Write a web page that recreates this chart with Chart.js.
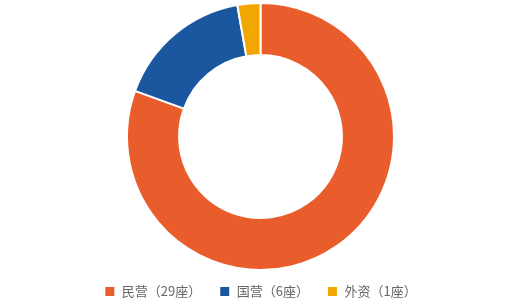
<!DOCTYPE html>
<html>
<head>
<meta charset="utf-8">
<script src="https://cdn.jsdelivr.net/npm/chart.js@4"></script>
<style>
  html, body { margin: 0; padding: 0; background: #fff; }
  #box { width: 521px; height: 308px; }
</style>
</head>
<body>
<div id="box"><canvas id="myChart"></canvas></div>
<script>
const categories = ['民营', '国营', '外资'];
const counts = [29, 6, 1];
const colors = ['#E95D2C', '#1A579F', '#F2A600'];

const data = {
    labels: categories.map((c, i) => `${c}（${counts[i]}座）`),
    datasets: [{
        data: counts,
        backgroundColor: colors,
        borderColor: '#ffffff',
        borderWidth: 2
    }]
};

// legend padding also sets item spacing, so pull the legend back up a bit
const legendNudge = {
    id: 'legendNudge',
    afterLayout(chart) {
        chart.legend.top -= 4;
        chart.legend.bottom -= 4;
    }
};

const config = {
    type: 'doughnut',
    data,
    options: {
        responsive: true,
        maintainAspectRatio: false,
        animation: false,
        cutout: '61%',
        layout: {
            padding: { top: 2, bottom: -4 }
        },
        plugins: {
            legend: {
                position: 'bottom',
                labels: {
                    boxWidth: 11,
                    boxHeight: 11,
                    padding: 18,
                    color: '#666666',
                    font: { family: '"Noto Sans CJK SC", sans-serif', size: 13 }
                }
            },
            tooltip: { enabled: false }
        }
    },
    plugins: [legendNudge]
};

new Chart(document.getElementById('myChart'), config);
</script>
</body>
</html>
